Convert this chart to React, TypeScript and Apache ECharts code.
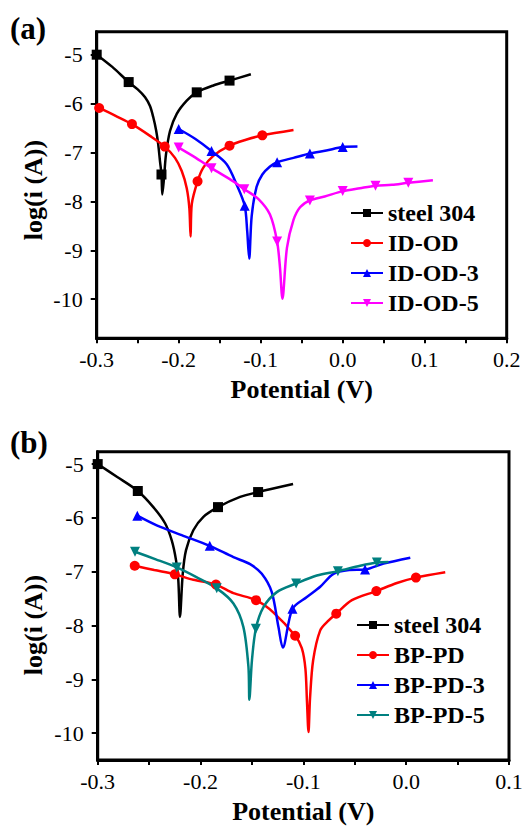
import React, { useEffect, useRef } from "react";
import * as echarts from "echarts";

// Each point: [potential (V), log(i), marker flag]
const steel304A: number[][] = [
  [-0.3, -5.0, 1], [-0.281, -5.25, 0], [-0.261, -5.56, 1], [-0.25, -5.71, 0],
  [-0.241, -5.87, 0], [-0.235, -6.05, 0], [-0.231, -6.28, 0], [-0.2275, -6.55, 0],
  [-0.225, -6.83, 0], [-0.2228, -7.18, 0], [-0.221, -7.45, 1],
  [-0.22, -7.86, 0], [-0.2179, -7.52, 0], [-0.2155, -7.04, 0], [-0.2106, -6.56, 0],
  [-0.2024, -6.21, 0], [-0.1902, -5.94, 0], [-0.178, -5.77, 1], [-0.1578, -5.63, 0],
  [-0.138, -5.53, 1], [-0.112, -5.4, 0],
];
const idOd: number[][] = [
  [-0.297, -6.09, 1], [-0.277, -6.25, 0], [-0.257, -6.42, 1], [-0.235, -6.66, 0],
  [-0.217, -6.88, 1], [-0.2045, -7.11, 0], [-0.1963, -7.38, 0], [-0.1902, -7.73, 0],
  [-0.187, -8.14, 0], [-0.1855, -8.72, 0], [-0.184, -8.05, 0], [-0.177, -7.59, 1],
  [-0.17, -7.31, 0], [-0.1578, -7.07, 0], [-0.138, -6.86, 1], [-0.118, -6.74, 0],
  [-0.098, -6.65, 1], [-0.06, -6.54, 0],
];
const idOd3: number[][] = [
  [-0.2, -6.52, 1], [-0.18, -6.72, 0], [-0.16, -6.97, 1], [-0.1415, -7.24, 0],
  [-0.1293, -7.66, 0], [-0.1195, -8.09, 1], [-0.1165, -8.6, 0], [-0.114, -9.17, 0],
  [-0.111, -8.3, 0], [-0.105, -7.7, 0], [-0.098, -7.45, 0], [-0.089, -7.29, 0],
  [-0.08, -7.2, 1], [-0.06, -7.11, 0], [-0.04, -7.02, 1], [-0.02, -6.96, 0],
  [0.0, -6.89, 1], [0.018, -6.88, 0],
];
const idOd5: number[][] = [
  [-0.2, -6.9, 1], [-0.18, -7.1, 0], [-0.16, -7.32, 1], [-0.1334, -7.59, 0],
  [-0.12, -7.75, 1], [-0.103, -7.95, 0], [-0.0887, -8.27, 0], [-0.08, -8.82, 1],
  [-0.0765, -9.35, 0], [-0.0735, -9.99, 0], [-0.068, -8.95, 0], [-0.06, -8.38, 0],
  [-0.052, -8.12, 0], [-0.04, -7.98, 1], [-0.022, -7.9, 0], [0.0, -7.79, 1],
  [0.021, -7.73, 0], [0.04, -7.68, 1], [0.06, -7.66, 0], [0.08, -7.62, 1], [0.11, -7.57, 0],
];

const steel304B: number[][] = [
  [-0.3, -5.0, 1], [-0.281, -5.24, 0], [-0.261, -5.5, 1], [-0.2459, -5.8, 0],
  [-0.2345, -6.1, 0], [-0.228, -6.42, 0], [-0.2238, -6.79, 0], [-0.2216, -7.16, 0],
  [-0.22, -7.84, 0], [-0.2173, -7.04, 0], [-0.2141, -6.6, 0], [-0.207, -6.23, 0],
  [-0.1972, -5.98, 0], [-0.183, -5.8, 1], [-0.1615, -5.61, 0], [-0.144, -5.52, 1],
  [-0.11, -5.37, 0],
];
const bpPd: number[][] = [
  [-0.264, -6.89, 1], [-0.245, -6.97, 0], [-0.225, -7.05, 1], [-0.207, -7.15, 0],
  [-0.185, -7.24, 1], [-0.168, -7.4, 0], [-0.146, -7.53, 1], [-0.129, -7.76, 0],
  [-0.108, -8.19, 1], [-0.1015, -8.42, 0], [-0.098, -8.8, 0], [-0.0965, -9.4, 0],
  [-0.095, -9.98, 0], [-0.0935, -9.35, 0], [-0.0905, -8.65, 0], [-0.0836, -8.09, 0],
  [-0.0756, -7.91, 0], [-0.068, -7.78, 1], [-0.0528, -7.53, 0], [-0.029, -7.36, 1],
  [-0.009, -7.21, 0], [0.0095, -7.11, 1], [0.038, -7.01, 0],
];
const bpPd3: number[][] = [
  [-0.2615, -5.96, 1], [-0.2426, -6.14, 0], [-0.2183, -6.32, 0], [-0.191, -6.52, 1],
  [-0.168, -6.73, 0], [-0.1518, -6.86, 0], [-0.1404, -7.04, 0], [-0.1307, -7.38, 0],
  [-0.1242, -8.03, 0], [-0.12, -8.41, 0], [-0.1106, -7.69, 1], [-0.0966, -7.47, 0],
  [-0.0836, -7.28, 0], [-0.0707, -7.04, 0], [-0.0555, -6.97, 0], [-0.04, -6.96, 1],
  [-0.022, -6.85, 0], [0.004, -6.74, 0],
];
const bpPd5: number[][] = [
  [-0.2637, -6.63, 1], [-0.2435, -6.77, 0], [-0.2231, -6.92, 1], [-0.204, -7.1, 0],
  [-0.1842, -7.31, 1], [-0.168, -7.59, 0], [-0.1583, -8.03, 0], [-0.1534, -8.77, 0],
  [-0.1525, -9.38, 0], [-0.15, -8.65, 0], [-0.1462, -8.06, 1], [-0.1388, -7.66, 0],
  [-0.1258, -7.38, 0], [-0.107, -7.22, 1], [-0.0869, -7.07, 0], [-0.0664, -6.99, 1],
  [-0.0447, -6.89, 0], [-0.0285, -6.83, 1], [-0.0172, -6.82, 0],
];

const yTicks = [-10, -9, -8, -7, -6, -5];
const legendA = ["steel 304", "ID-OD", "ID-OD-3", "ID-OD-5"];
const legendB = ["steel 304", "BP-PD", "BP-PD-3", "BP-PD-5"];

const FONT = "Liberation Serif";
const DOWN_TRIANGLE = "path://M0,0L2,0L1,1.75Z";

function buildSeries(
  name: string,
  pts: number[][],
  color: string,
  symbol: string,
  axis: number
) {
  return {
    type: "line",
    name,
    xAxisIndex: axis,
    yAxisIndex: axis,
    color,
    smooth: 0.3,
    symbol,
    symbolSize: 10,
    showAllSymbol: true,
    lineStyle: { width: 2.5, color },
    itemStyle: { color },
    data: pts.map((p) => ({
      value: [p[0], p[1]],
      symbol: p[2] ? symbol : "none",
    })),
  };
}

function xAxisCfg(grid: number, max: number) {
  return {
    type: "value",
    gridIndex: grid,
    min: -0.3,
    max,
    interval: 0.1,
    axisLine: { show: true, onZero: false, lineStyle: { color: "#000", width: 3 } },
    axisTick: { show: true, length: 5, lineStyle: { color: "#000", width: 2 } },
    minorTick: { show: true, splitNumber: 2, length: 5, lineStyle: { color: "#000", width: 2 } },
    splitLine: { show: false },
    axisLabel: {
      margin: 10,
      fontFamily: FONT,
      fontSize: 22,
      color: "#000",
      formatter: (v: number) => (Math.abs(v) < 1e-9 ? "0.0" : v.toFixed(1)),
    },
    name: "Potential (V)",
    nameLocation: "middle",
    nameGap: 38,
    nameTextStyle: { fontFamily: FONT, fontSize: 26, fontWeight: "bold", color: "#000" },
  };
}

function yAxisCfg(grid: number, min: number, max: number) {
  return {
    type: "value",
    gridIndex: grid,
    min,
    max,
    axisLine: { show: true, onZero: false, lineStyle: { color: "#000", width: 3 } },
    axisTick: { show: true, length: 6, customValues: yTicks, lineStyle: { color: "#000", width: 2 } },
    splitLine: { show: false },
    axisLabel: {
      margin: 14,
      customValues: yTicks,
      fontFamily: FONT,
      fontSize: 22,
      color: "#000",
    },
  };
}

function legendCfg(data: string[], left: number, top: number) {
  return {
    data,
    orient: "vertical",
    left,
    top,
    itemWidth: 32,
    itemHeight: 10,
    itemGap: 6,
    padding: 0,
    textStyle: {
      fontFamily: FONT,
      fontSize: 24,
      fontWeight: "bold",
      color: "#000",
      lineHeight: 24,
    },
  };
}

export default function App() {
  const ref = useRef<HTMLDivElement>(null);

  useEffect(() => {
    if (!ref.current) return;
    const chart = echarts.init(ref.current, null, { renderer: "svg" });
    chart.setOption({
      animation: false,
      backgroundColor: "#fff",
      grid: [
        { left: 96.7, top: 31.7, width: 410, height: 306.6, show: true, borderColor: "#000", borderWidth: 3, backgroundColor: "transparent" },
        { left: 97.7, top: 451.7, width: 411.3, height: 308.3, show: true, borderColor: "#000", borderWidth: 3, backgroundColor: "transparent" },
      ],
      xAxis: [xAxisCfg(0, 0.2), xAxisCfg(1, 0.1)],
      yAxis: [yAxisCfg(0, -10.8, -4.53), yAxisCfg(1, -10.5, -4.77)],
      legend: [legendCfg(legendA, 350, 201), legendCfg(legendB, 356, 613)],
      graphic: [
        { type: "text", left: 10, top: 13, style: { text: "(a)", fontFamily: FONT, fontSize: 31, fontWeight: "bold", fill: "#000" } },
        { type: "text", left: 10, top: 427, style: { text: "(b)", fontFamily: FONT, fontSize: 31, fontWeight: "bold", fill: "#000" } },
        { type: "text", x: 33, y: 190, rotation: Math.PI / 2, style: { text: "log(i (A))", fontFamily: FONT, fontSize: 26, fontWeight: "bold", fill: "#000", align: "center", verticalAlign: "middle" } },
        { type: "text", x: 33, y: 625, rotation: Math.PI / 2, style: { text: "log(i (A))", fontFamily: FONT, fontSize: 26, fontWeight: "bold", fill: "#000", align: "center", verticalAlign: "middle" } },
      ],
      series: [
        buildSeries("steel 304", steel304A, "#000000", "rect", 0),
        buildSeries("ID-OD", idOd, "#ff0000", "circle", 0),
        buildSeries("ID-OD-3", idOd3, "#0000ff", "triangle", 0),
        buildSeries("ID-OD-5", idOd5, "#ff00ff", DOWN_TRIANGLE, 0),
        buildSeries("steel 304", steel304B, "#000000", "rect", 1),
        buildSeries("BP-PD", bpPd, "#ff0000", "circle", 1),
        buildSeries("BP-PD-3", bpPd3, "#0000ff", "triangle", 1),
        buildSeries("BP-PD-5", bpPd5, "#008080", DOWN_TRIANGLE, 1),
      ],
    });
    return () => chart.dispose();
  }, []);

  return (
    <div
      ref={ref}
      style={{ position: "absolute", left: 0, top: 0, width: 527, height: 828 }}
    />
  );
}
